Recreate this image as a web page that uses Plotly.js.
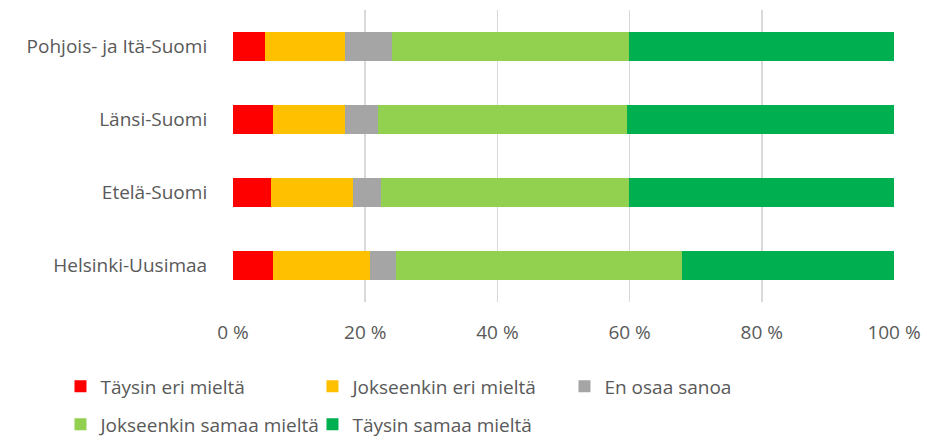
<!DOCTYPE html>
<html><head><meta charset="utf-8">
<script src="https://cdn.plot.ly/plotly-3.0.1.min.js"></script>
<style>body{margin:0;background:#fff}#c{width:927px;height:443px}</style>
</head><body><div id="c"></div>
<script>
const regions = ["Helsinki-Uusimaa", "Etelä-Suomi", "Länsi-Suomi", "Pohjois- ja Itä-Suomi"];
const seriesNames = ["Täysin eri mieltä", "Jokseenkin eri mieltä", "En osaa sanoa", "Jokseenkin samaa mieltä", "Täysin samaa mieltä"];
const seriesColors = ["#ff0000", "#ffc000", "#a5a5a5", "#92d050", "#00b050"];
const taysinEri = [6.0, 5.7, 6.0, 4.8];
const jokseenkinEri = [14.7, 12.5, 11.0, 12.1];
const enOsaa = [3.9, 4.2, 4.9, 7.1];
const jokseenkinSamaa = [43.3, 37.5, 37.7, 35.9];
const taysinSamaa = [32.1, 40.1, 40.4, 40.1];
const xTicks = [0, 20, 40, 60, 80, 100];

const values = [taysinEri, jokseenkinEri, enOsaa, jokseenkinSamaa, taysinSamaa];
const legendRow = ['legend', 'legend', 'legend', 'legend2', 'legend2'];
const FONT = "'Open Sans', 'Noto Sans', sans-serif";
const traces = values.map((v, i) => ({
  type: 'bar', orientation: 'h', y: regions, x: v, name: seriesNames[i],
  legend: legendRow[i],
  marker: {color: seriesColors[i], line: {width: 0}}, hoverinfo: 'skip'
}));
const legendBase = {orientation: 'h', xref: 'paper', x: -0.261, xanchor: 'left', yref: 'paper', yanchor: 'top',
  traceorder: 'normal', entrywidth: 207, entrywidthmode: 'pixels',
  font: {family: FONT, size: 19, color: '#595959'}, itemwidth: 30, bgcolor: 'rgba(0,0,0,0)'};
const layout = {
  width: 927, height: 443, barmode: 'stack', bargap: 0.6,
  margin: {l: 233, r: 33, t: 10, b: 141, autoexpand: false},
  paper_bgcolor: '#fff', plot_bgcolor: '#fff',
  font: {family: FONT, size: 19, color: '#595959'},
  xaxis: {range: [0, 100], tickvals: xTicks, ticktext: xTicks.map(t => t + ' %'),
    showgrid: true, gridcolor: '#d9d9d9', gridwidth: 1.5, zeroline: false,
    showline: false, ticks: 'outside', ticklen: 13, tickcolor: 'rgba(0,0,0,0)',
    tickfont: {family: FONT, size: 19, color: '#595959'}, fixedrange: true},
  yaxis: {showgrid: false, zeroline: false, showline: false,
    ticks: 'outside', ticklen: 21, tickcolor: 'rgba(0,0,0,0)',
    tickfont: {family: FONT, size: 19, color: '#595959'}, fixedrange: true},
  showlegend: true,
  legend: Object.assign({}, legendBase, {y: -0.224}),
  legend2: Object.assign({}, legendBase, {y: -0.354})
};
Plotly.newPlot('c', traces, layout, {staticPlot: true});
</script></body></html>
